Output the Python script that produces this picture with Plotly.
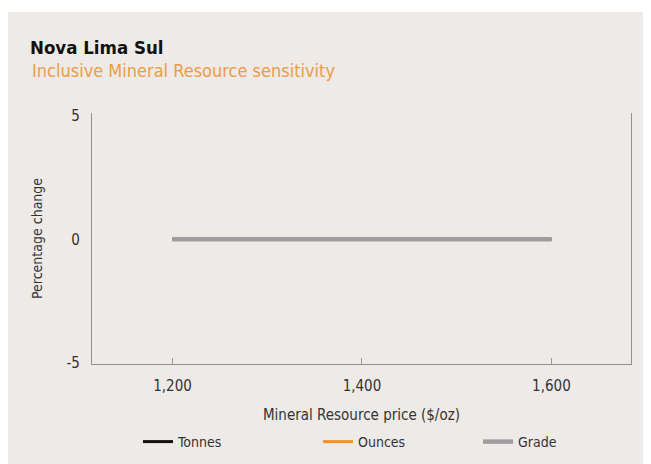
import plotly.graph_objects as go

price = [1200, 1400, 1600]
tonnes = [0.0, 0.0, 0.0]
ounces = [0.0, 0.0, 0.0]
grade = [0.0, 0.0, 0.0]
series_names = ["Tonnes", "Ounces", "Grade"]
y_ticks = [-5, 0, 5]
y_tick_labels = ["-5", "0", "5"]
x_ticks = [1200, 1400, 1600]
x_tick_labels = ["1,200", "1,400", "1,600"]

FONT = "DejaVu Sans Condensed, Liberation Sans Narrow, Arial Narrow, sans-serif"
BG = "#eeeae7"
colors = ["#111111", "#f39325", "#9e9ea0"]
widths = [3, 3, 4.5]

# page body has an 8px margin, so figure coords = screen coords - 8
OFF = 8
W, H = 651 - OFF, 464 - OFF
L, T = 92 - OFF, 113 - OFF
R = W - (631 - OFF)
B = H - (364 - OFF)
pw, ph = W - L - R, H - T - B

def px_x(p):
    return (p - OFF - L) / pw

def px_y(p):
    return (H - B - (p - OFF)) / ph

def cx(p):
    return (p - OFF) / W

def cy(p):
    return 1 - (p - OFF) / H

fig = go.Figure()
legend_ids = ["legend", "legend2", "legend3"]
legend_text_x = [178, 358, 518]
for name, vals, col, wd, lid in zip(series_names, [tonnes, ounces, grade], colors, widths, legend_ids):
    fig.add_trace(go.Scatter(
        x=price, y=vals, mode="lines", name=name,
        line=dict(color=col, width=wd),
        legend=lid, showlegend=True,
    ))

leg_common = dict(
    orientation="h", yanchor="middle", xanchor="left",
    xref="container", yref="container",
    font=dict(family=FONT, size=14, color="#333333"),
    bgcolor="rgba(0,0,0,0)", itemwidth=30,
)
layout_legends = {}
for lid, tx in zip(legend_ids, legend_text_x):
    layout_legends[lid] = dict(leg_common, x=cx(tx - 40), y=cy(442))

fig.update_layout(
    width=W, height=H, showlegend=True,
    margin=dict(l=L, r=R, t=T, b=B, pad=0, autoexpand=False),
    paper_bgcolor=BG, plot_bgcolor=BG,
    font=dict(family=FONT, color="#333333"),
    title=dict(
        text="<b>Nova Lima Sul</b>",
        font=dict(family=FONT, size=18.5, color="#111111"),
        xref="container", yref="container",
        x=cx(30), xanchor="left", y=cy(48), yanchor="middle",
    ),
    xaxis=dict(
        range=[1115, 1684], tickvals=x_ticks, ticktext=x_tick_labels,
        showgrid=False, zeroline=False,
        showline=True, linecolor="#909090", linewidth=1.3,
        ticks="inside", ticklen=6, tickcolor="#9a9a9a", tickwidth=1,
        tickfont=dict(family=FONT, size=15, color="#333333"),
        ticklabelstandoff=8,
        title=dict(text="Mineral Resource price ($/oz)",
                   font=dict(family=FONT, size=15, color="#333333"), standoff=15),
    ),
    yaxis=dict(
        range=[-5.05, 5.12], tickvals=y_ticks, ticktext=y_tick_labels,
        showgrid=False, zeroline=False,
        showline=True, mirror=True, linecolor="#909090", linewidth=1.3,
        ticks="", tickfont=dict(family=FONT, size=15, color="#333333"),
        ticklabelstandoff=8,
        title=dict(text="Percentage change",
                   font=dict(family=FONT, size=14, color="#333333"), standoff=20),
    ),
    **layout_legends,
)

fig.add_annotation(
    text="Inclusive Mineral Resource sensitivity",
    xref="paper", yref="paper", x=px_x(30), y=px_y(71),
    xanchor="left", yanchor="middle", showarrow=False,
    font=dict(family=FONT, size=18, color="#eb9c45"),
)

# white strip above the grey panel
fig.add_shape(type="rect", xref="paper", yref="paper", layer="below",
              x0=px_x(0), x1=px_x(700), y0=px_y(12), y1=px_y(0),
              fillcolor="white", line_width=0)

fig.write_html("out.html")
